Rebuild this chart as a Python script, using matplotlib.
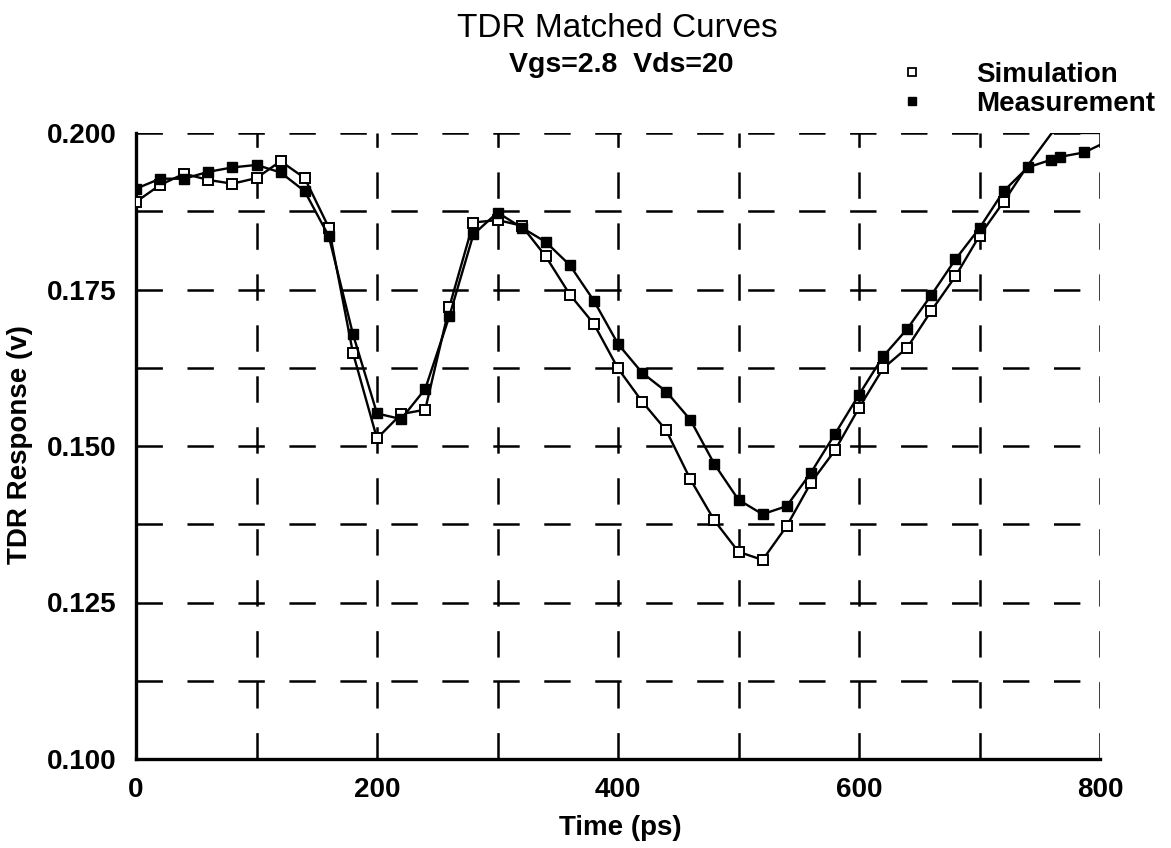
import matplotlib
matplotlib.use("Agg")
import matplotlib.pyplot as plt
import numpy as np
from matplotlib.lines import Line2D
from matplotlib.ticker import FormatStrFormatter

plt.rcParams["font.family"] = ["Liberation Sans", "DejaVu Sans"]
plt.rcParams["lines.scale_dashes"] = False

# Simulated TDR response, sampled every 20 ps (values above 0.200 sit on the frame)
sim_time = np.arange(0, 801, 20)
sim_resp = [0.1890, 0.1917, 0.1935, 0.1925, 0.1919, 0.1928, 0.1955, 0.1928,
            0.1849, 0.1649, 0.1512, 0.1551, 0.1558, 0.1722, 0.1857, 0.1861,
            0.1852, 0.1803, 0.1742, 0.1695, 0.1624, 0.1571, 0.1525, 0.1447,
            0.1381, 0.1331, 0.1318, 0.1372, 0.1441, 0.1493, 0.1561, 0.1624,
            0.1657, 0.1716, 0.1771, 0.1836, 0.1890, 0.1948, 0.2000, 0.2000,
            0.2000]
sim_marked_until = 720

# Measured TDR response
meas_time = [0, 20, 40, 60, 80, 100, 120, 140, 160, 180, 200, 220, 240, 260,
             280, 300, 320, 340, 360, 380, 400, 420, 440, 460, 480, 500, 520,
             540, 560, 580, 600, 620, 640, 660, 680, 700, 720, 740, 759, 767,
             787, 800]
meas_resp = [0.1911, 0.1927, 0.1927, 0.1938, 0.1945, 0.1949, 0.1937, 0.1907,
             0.1835, 0.1679, 0.1552, 0.1543, 0.1591, 0.1707, 0.1838, 0.1873,
             0.1849, 0.1826, 0.1789, 0.1732, 0.1663, 0.1617, 0.1587, 0.1542,
             0.1471, 0.1414, 0.1391, 0.1404, 0.1457, 0.1519, 0.1582, 0.1643,
             0.1687, 0.1741, 0.1798, 0.1848, 0.1907, 0.1945, 0.1957, 0.1962,
             0.1969, 0.1981]

x_major = [0, 200, 400, 600, 800]
x_minor = [100, 300, 500, 700]
y_major = [0.100, 0.125, 0.150, 0.175, 0.200]
y_minor = [0.1125, 0.1375, 0.1625, 0.1875]

W, H = 1171, 848
fig = plt.figure(figsize=(W / 100, H / 100), dpi=100)
ax = fig.add_axes([136 / W, 1 - 759 / H, (1100 - 136) / W, (759 - 133) / H])

ax.set_xlim(0, 800)
ax.set_ylim(0.100, 0.200)
ax.set_xticks(x_major)
ax.set_xticks(x_minor, minor=True)
ax.set_yticks(y_major)
ax.set_yticks(y_minor, minor=True)
ax.yaxis.set_major_formatter(FormatStrFormatter("%.3f"))
ax.tick_params(which="both", length=0)
ax.tick_params(axis="x", which="major", pad=13, labelsize=20)
ax.tick_params(axis="y", which="major", pad=14, labelsize=20)
for lab in ax.get_xticklabels() + ax.get_yticklabels():
    lab.set_fontweight("bold")

ax.grid(True, which="both", color="black", linewidth=1.8,
        linestyle=(0, (19, 17.7)))
ax.set_axisbelow(True)
for side in ("top", "right"):
    ax.spines[side].set_visible(False)
for side in ("left", "bottom"):
    ax.spines[side].set_linewidth(2.4)

sim_marks = [i for i, t in enumerate(sim_time) if t <= sim_marked_until]
ax.plot(sim_time, sim_resp, color="black", linewidth=1.7, marker="s",
        markersize=7.5, markerfacecolor="white", markeredgecolor="black",
        markeredgewidth=1.4, markevery=sim_marks, zorder=3)
ax.plot(meas_time, meas_resp, color="black", linewidth=1.7, marker="s",
        markersize=7.5, markerfacecolor="black", markeredgecolor="black",
        markevery=list(range(len(meas_time) - 1)), zorder=4)

handles = [
    Line2D([], [], linestyle="none", marker="s", markersize=6,
           markerfacecolor="white", markeredgecolor="black", markeredgewidth=1.3),
    Line2D([], [], linestyle="none", marker="s", markersize=6,
           markerfacecolor="black", markeredgecolor="black"),
]
fig.legend(handles, ["Simulation", "Measurement"], loc="upper left",
           bbox_to_anchor=(898 / W, 1 - 62 / H), frameon=False,
           prop={"size": 20, "weight": "bold"}, handlelength=1.0,
           handletextpad=1.8, labelspacing=0.1, borderpad=0, borderaxespad=0)

fig.text(617 / W, 1 - 37 / H, "TDR Matched Curves", ha="center",
         va="baseline", fontsize=24)
fig.text(621 / W, 1 - 72 / H, "Vgs=2.8  Vds=20", ha="center",
         va="baseline", fontsize=20.5, fontweight="bold")
fig.text(20 / W, 1 - 445 / H, "TDR Response (v)", rotation=90, ha="center",
         va="center", fontsize=20, fontweight="bold")
fig.text(620 / W, 1 - 835 / H, "Time (ps)", ha="center", va="baseline",
         fontsize=20, fontweight="bold")

fig.savefig("out.png", dpi=100, facecolor="white")
